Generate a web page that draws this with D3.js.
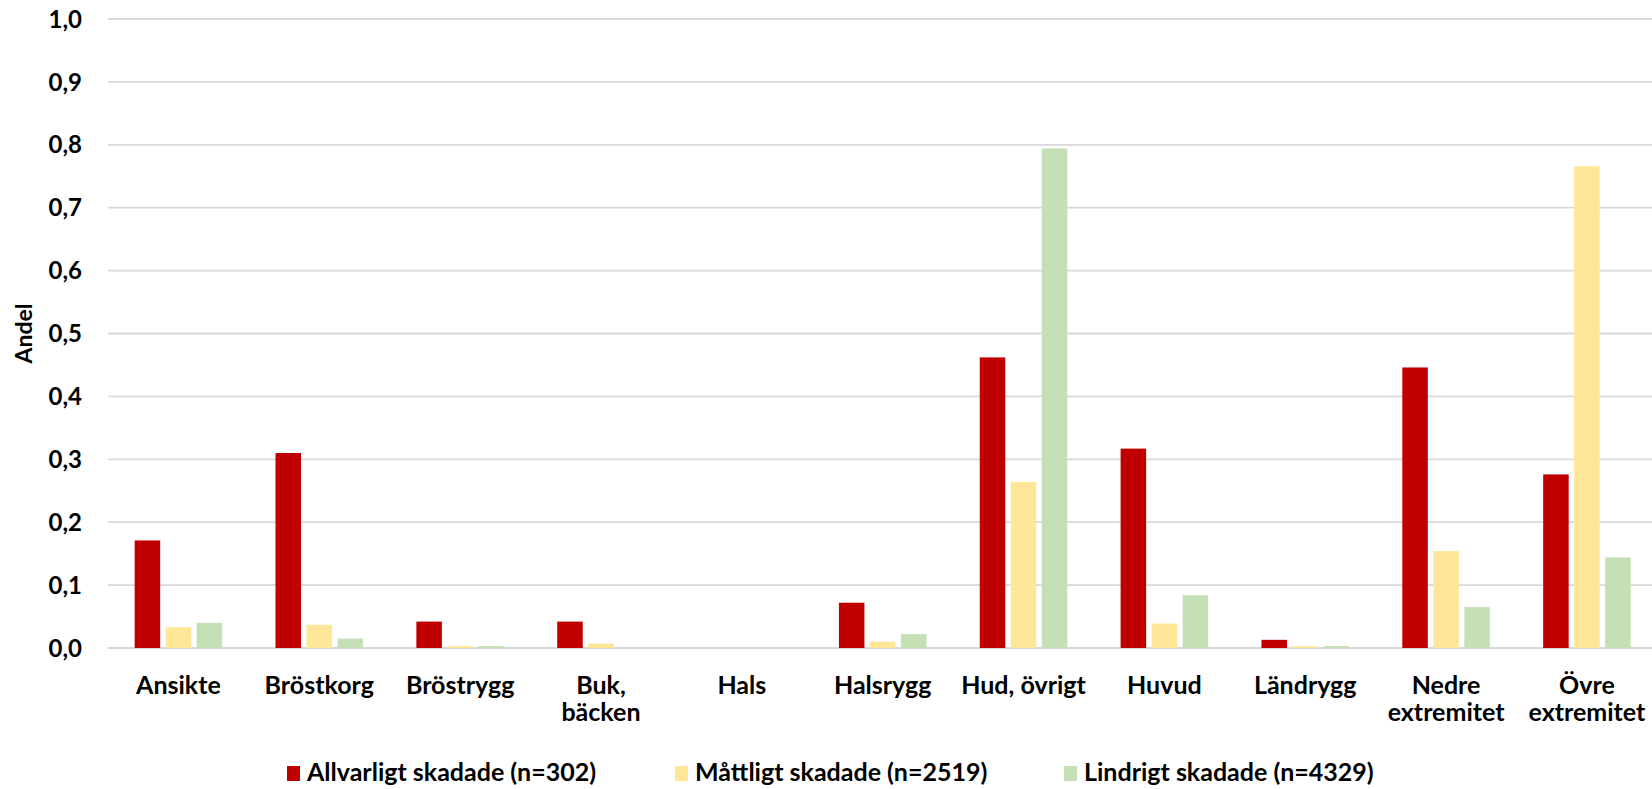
<!DOCTYPE html>
<html>
<head>
<meta charset="utf-8">
<script src="https://cdn.jsdelivr.net/npm/d3@7"></script>
<style>
  body { margin: 0; background: #fff; }
  svg text { font-family: Lato, "Open Sans", sans-serif; font-weight: bold; fill: #000; }
</style>
</head>
<body>
<div id="chart"></div>
<script>
// categories (two-line labels split with \n)
const categories = ['Ansikte', 'Bröstkorg', 'Bröstrygg', 'Buk,\nbäcken', 'Hals', 'Halsrygg',
    'Hud, övrigt', 'Huvud', 'Ländrygg', 'Nedre\nextremitet', 'Övre\nextremitet'];

const seriesNames = ['Allvarligt skadade (n=302)', 'Måttligt skadade (n=2519)', 'Lindrigt skadade (n=4329)'];
const seriesColors = ['#C00000', '#FFE699', '#C5E0B4'];

// values
const allvarligt = [0.171, 0.310, 0.042, 0.042, 0, 0.072, 0.462, 0.317, 0.013, 0.446, 0.276];
const mattligt   = [0.033, 0.037, 0.003, 0.007, 0, 0.010, 0.264, 0.039, 0.003, 0.154, 0.766];
const lindrigt   = [0.040, 0.015, 0.003, 0, 0, 0.022, 0.794, 0.084, 0.003, 0.065, 0.144];

const yTicks = [0, 0.1, 0.2, 0.3, 0.4, 0.5, 0.6, 0.7, 0.8, 0.9, 1.0];

const width = 1652, height = 789;
const margin = {left: 108, top: 19, bottom: 141};
const plotRight = margin.left + categories.length * 140.85;

const svg = d3.select('#chart').append('svg')
    .attr('width', width)
    .attr('height', height)
    .attr('viewBox', [0, 0, width, height]);

const y = d3.scaleLinear()
    .domain([0, 1])
    .range([height - margin.bottom, margin.top]);

const x0 = d3.scaleBand()
    .domain(categories)
    .range([margin.left, plotRight])
    .paddingInner(0)
    .paddingOuter(0);

const x1 = d3.scaleBand()
    .domain(seriesNames)
    .range([0, x0.bandwidth()])
    .paddingInner(0.177)
    .paddingOuter(0.86);

//gridlines
svg.append('g')
    .selectAll('line')
    .data(yTicks)
    .join('line')
    .attr('x1', margin.left)
    .attr('x2', width)
    .attr('y1', d => y(d))
    .attr('y2', d => y(d))
    .attr('stroke', '#d9d9d9')
    .attr('stroke-width', 1.8);

//y axis labels
const fmt = d => d.toFixed(1).replace('.', ',');
svg.append('g')
    .selectAll('text')
    .data(yTicks)
    .join('text')
    .attr('x', 82)
    .attr('y', d => y(d))
    .attr('dy', '0.36em')
    .attr('text-anchor', 'end')
    .style('font-size', '24px')
    .text(fmt);

svg.append('text')
    .attr('transform', `translate(32, ${(y(0) + y(1)) / 2}) rotate(-90)`)
    .attr('text-anchor', 'middle')
    .style('font-size', '23px')
    .text('Andel');

//bars
const allSeries = [allvarligt, mattligt, lindrigt];
allSeries.forEach((values, si) => {
    svg.append('g')
        .selectAll('rect')
        .data(values)
        .join('rect')
        .attr('x', (d, i) => x0(categories[i]) + x1(seriesNames[si]))
        .attr('width', x1.bandwidth())
        .attr('y', d => y(d))
        .attr('height', d => y(0) - y(d))
        .attr('fill', seriesColors[si]);
});

//category labels
const labels = svg.append('g')
    .selectAll('text')
    .data(categories)
    .join('text')
    .attr('text-anchor', 'middle')
    .style('font-size', '25px');

labels.each(function (d) {
    const cx = x0(d) + x0.bandwidth() / 2;
    const lines = d.split('\n');
    lines.forEach((line, li) => {
        d3.select(this).append('tspan')
            .attr('x', cx)
            .attr('y', 694 + li * 27)
            .text(line);
    });
});

//legend
const legendX = [287, 675, 1064];
seriesNames.forEach((name, i) => {
    svg.append('rect')
        .attr('x', legendX[i])
        .attr('y', 766)
        .attr('width', 13)
        .attr('height', 15)
        .attr('fill', seriesColors[i]);
    svg.append('text')
        .attr('x', legendX[i] + 20)
        .attr('y', 781)
        .style('font-size', '25px')
        .text(name);
});
</script>
</body>
</html>
